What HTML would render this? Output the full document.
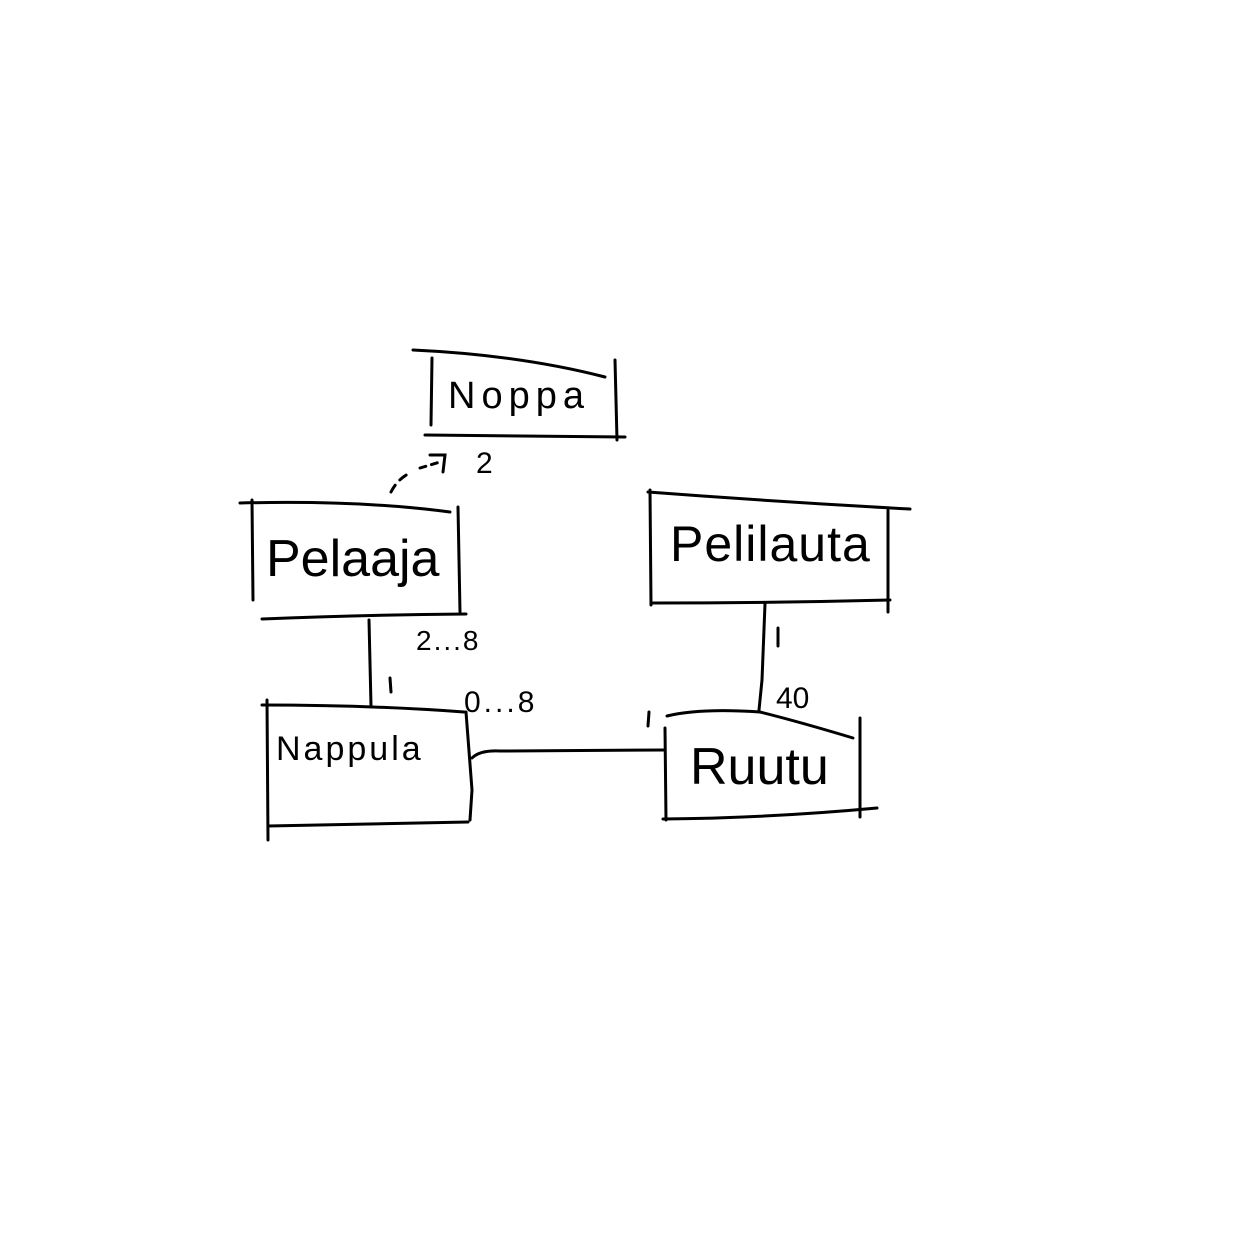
<!DOCTYPE html>
<html><head><style>
html,body{margin:0;padding:0;background:#fff;}
svg{display:block}
text{font-family:"Liberation Sans",sans-serif;fill:#000}
</style></head><body>
<svg width="1240" height="1240" viewBox="0 0 1240 1240" xmlns="http://www.w3.org/2000/svg">
<g stroke="#000" stroke-width="3" fill="none" stroke-linecap="round">
<path d="M413,350 Q520,355 605,377"/>
<path d="M432,358 L431,425"/>
<path d="M615,360 L617,440"/>
<path d="M425,435 L625,437"/>
<path d="M391,492 Q398,478 412,472" stroke-dasharray="8,7"/>
<path d="M420,468 L440,462" stroke-dasharray="6,6"/>
<path d="M430,455 L445,455 L443,472"/>
<path d="M240,503 Q360,500 450,512"/>
<path d="M252,500 L253,600"/>
<path d="M458,507 L460,612"/>
<path d="M262,619 Q360,615 466,614"/>
<path d="M369,620 L371,706"/>
<path d="M262,705 Q370,705 464,712"/>
<path d="M267,700 L268,840"/>
<path d="M466,712 L472,790 L470,820"/>
<path d="M268,826 Q370,824 468,822"/>
<path d="M472,758 Q480,750 500,751 L665,750"/>
<path d="M648,492 Q780,502 910,509"/>
<path d="M650,490 L651,605"/>
<path d="M888,510 L888,612"/>
<path d="M652,603 Q770,603 890,600"/>
<path d="M765,604 L762,680 L759,710"/>
<path d="M667,716 Q700,708 760,712 Q800,722 853,738"/>
<path d="M665,728 L666,820"/>
<path d="M860,718 L860,817"/>
<path d="M663,819 Q770,818 877,808"/>
<path d="M649,712 L648,726"/>
<path d="M778,628 L778,646"/>
<path d="M390,678 L391,692"/>
</g>
<text x="448" y="408" font-size="38" letter-spacing="6">Noppa</text>
<text x="476" y="473" font-size="30">2</text>
<text x="266" y="576" font-size="52">Pelaaja</text>
<text x="416" y="650" font-size="28" letter-spacing="2">2...8</text>
<text x="464" y="712" font-size="30" letter-spacing="3">0...8</text>
<text x="276" y="760" font-size="34" letter-spacing="3">Nappula</text>
<text x="670" y="561" font-size="50" letter-spacing="1">Pelilauta</text>
<text x="776" y="708" font-size="30">40</text>
<text x="690" y="784" font-size="52">Ruutu</text>
</svg>
</body></html>
